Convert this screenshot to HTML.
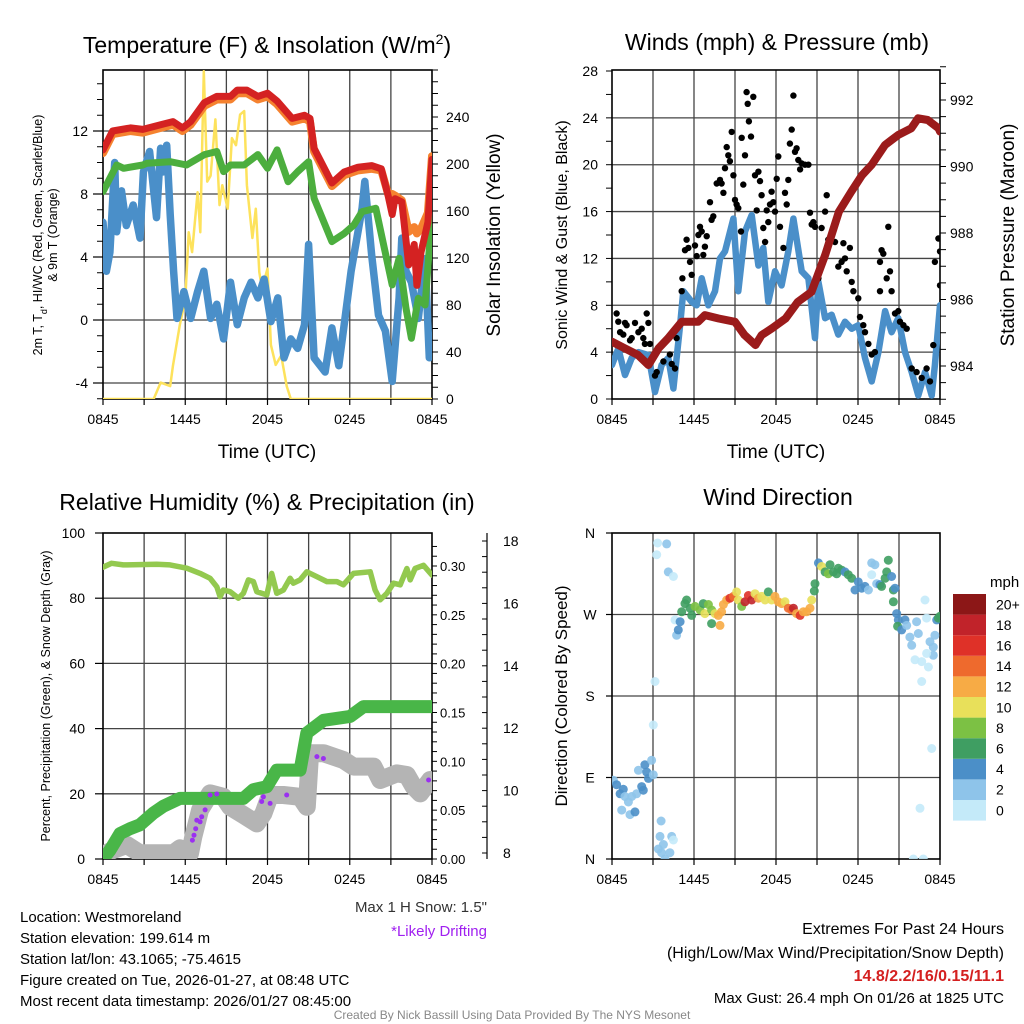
<!DOCTYPE html>
<html><head><meta charset="utf-8"><style>
html,body{margin:0;padding:0;background:#fff;}
svg{display:block;font-family:"Liberation Sans",Arial,sans-serif;}
</style></head><body>
<svg id="c" width="1024" height="1024" viewBox="0 0 1024 1024" xmlns="http://www.w3.org/2000/svg">
<defs>
<clipPath id="cp1"><rect x="103" y="70" width="329" height="329"/></clipPath>
<clipPath id="cp2"><rect x="612" y="70" width="328" height="329"/></clipPath>
<clipPath id="cp3"><rect x="103" y="533" width="329" height="326"/></clipPath>
<clipPath id="cp4"><rect x="612" y="533" width="328" height="326"/></clipPath>
</defs>
<g font-size="23" text-anchor="middle" fill="#000">
<text x="267" y="53">Temperature (F) &amp; Insolation (W/m<tspan dy="-9" font-size="14">2</tspan><tspan dy="9">)</tspan></text>
<text x="777" y="50">Winds (mph) &amp; Pressure (mb)</text>
<text x="267" y="510">Relative Humidity (%) &amp; Precipitation (in)</text>
<text x="778" y="505">Wind Direction</text>
</g>
<g fill="#000">
<text transform="translate(42,235) rotate(-90)" text-anchor="middle" font-size="12.5">2m T, T<tspan baseline-shift="sub" font-size="9">d</tspan>, HI/WC (Red, Green, Scarlet/Blue)</text>
<text transform="translate(57,235) rotate(-90)" text-anchor="middle" font-size="12.5">&amp; 9m T (Orange)</text>
<text transform="translate(500,235) rotate(-90)" text-anchor="middle" font-size="19">Solar Insolation (Yellow)</text>
<text x="267" y="458" text-anchor="middle" font-size="19">Time (UTC)</text>
<text x="776" y="458" text-anchor="middle" font-size="19">Time (UTC)</text>
<text transform="translate(567,235) rotate(-90)" text-anchor="middle" font-size="16">Sonic Wind &amp; Gust (Blue, Black)</text>
<text transform="translate(1014,235) rotate(-90)" text-anchor="middle" font-size="19">Station Pressure (Maroon)</text>
<text transform="translate(50,696) rotate(-90)" text-anchor="middle" font-size="12.5">Percent, Precipitation (Green), &amp; Snow Depth (Gray)</text>
<text transform="translate(567,696) rotate(-90)" text-anchor="middle" font-size="17">Direction (Colored By Speed)</text>
</g>
<g font-size="15" fill="#000">
<text x="20" y="922">Location: Westmoreland</text>
<text x="20" y="943">Station elevation: 199.614 m</text>
<text x="20" y="964">Station lat/lon: 43.1065; -75.4615</text>
<text x="20" y="985">Figure created on Tue, 2026-01-27, at 08:48 UTC</text>
<text x="20" y="1006">Most recent data timestamp: 2026/01/27 08:45:00</text>
<text x="487" y="912" text-anchor="end" fill="#333">Max 1 H Snow: 1.5"</text>
<text x="487" y="936" text-anchor="end" fill="#a020f0">*Likely Drifting</text>
<text x="1004" y="934" text-anchor="end" font-size="16">Extremes For Past 24 Hours</text>
<text x="1004" y="958" text-anchor="end" font-size="16">(High/Low/Max Wind/Precipitation/Snow Depth)</text>
<text x="1004" y="981" text-anchor="end" font-size="16" font-weight="bold" fill="#d42020">14.8/2.2/16/0.15/11.1</text>
<text x="1004" y="1003" text-anchor="end" font-size="15">Max Gust: 26.4 mph On 01/26 at 1825 UTC</text>
<text x="512" y="1019" text-anchor="middle" font-size="12" fill="#888">Created By Nick Bassill Using Data Provided By The NYS Mesonet</text>
</g>
</svg>
<script>
// ---------- Data ----------
const timeLabels = ['0845','1445','2045','0245','0845'];
const timeLabelHours = [0,6,12,18,24];
const tempTicks = [-4,0,4,8,12];
const solarTicks = [0,40,80,120,160,200,240];
const windTicks = [0,4,8,12,16,20,24,28];
const pressTicks = [984,986,988,990,992];
const rhTicks = [0,20,40,60,80,100];
const precipTicks = [0,0.05,0.10,0.15,0.20,0.25,0.30];
const precipTickLabels = ['0.00','0.05','0.10','0.15','0.20','0.25','0.30'];
const snowTicks = [8,10,12,14,16,18];
const dirTicks = [0,90,180,270,360];
const dirLabels = ['N','E','S','W','N'];
const speedBinLabels = ['0','2','4','6','8','10','12','14','16','18','20+'];

const tempTimes = [0,0.7,2,2.9,4.2,5.1,5.8,6.4,7.4,8.3,9.3,9.8,10.5,11.3,12,12.7,13.8,14.7,15.1,15.4,16.7,17.6,18.6,19.6,20.3,20.8,21.1,21.3,21.8,22.3,22.7,22.9,23.2,23.7,24];
const temp2m = [10.8,12.0,12.2,12.1,12.4,12.6,12.2,12.6,13.8,14.2,14.2,14.6,14.6,14.2,14.4,13.9,12.8,13.0,12.8,10.9,8.7,9.4,9.7,9.8,9.6,7.9,6.7,7.7,7.5,3.5,4.8,2.2,4.3,6.2,10.2];
const temp9m = [10.6,11.8,12.0,11.9,12.2,12.4,12.0,12.4,13.6,14.0,14.0,14.4,14.4,14.0,14.2,13.7,12.6,12.8,12.6,10.7,8.5,9.2,9.5,9.6,9.5,8.0,8.0,7.9,7.6,5.6,5.9,5.5,5.8,6.8,10.4];
const wcTimes = [0,1.0,1.5,2.9,3.2,4.9,6.1,7.4,8.3,8.8,9.3,10.3,11.3,12.0,12.7,13.5,14.2,15.0,15.4,16.7,17.6,18.3,18.9,19.9,21.1,21.6,22.1,22.5,23.0,23.5,24];
const windChill = [8.15,9.84,9.63,9.84,9.95,10.05,9.84,10.5,10.7,9.42,9.84,9.84,10.5,9.63,10.8,8.78,9.42,10.05,7.73,4.98,5.5,6.03,6.88,7.09,2.23,3.92,0.74,-1.16,1.38,0.95,6.88];
const dewTimes = [0,0.25,0.5,0.85,1.0,1.35,1.7,2.2,2.7,2.95,3.4,3.9,4.2,4.4,4.65,4.9,5.15,5.4,5.9,6.4,6.9,7.35,7.85,8.3,8.8,9.3,9.8,10.3,10.8,11.3,11.75,12.25,12.75,13.2,13.7,14.2,14.7,15.0,15.4,16.2,16.7,17.2,17.65,18.1,18.9,19.1,19.6,20.1,20.6,21.1,21.6,21.8,22.1,22.5,23.0,23.5,23.8,24];
const dewPoint = [6.2,3.1,4.3,10.0,5.6,8.2,6.0,7.3,5.2,9.4,10.7,6.5,10.9,9.4,11.1,6.7,3.1,0.1,1.8,0.1,1.8,3.1,0.1,1.0,-1.2,2.4,-0.3,1.4,2.4,1.4,2.6,-0.1,1.4,-2.4,-1.2,-1.8,-0.3,4.8,-2.4,-3.3,-0.5,-2.9,0.1,3.1,7.1,8.8,4.1,0.3,-0.7,-3.9,1.4,5.2,3.1,2.4,0.1,3.9,-2.4,-1.2];
const solarTimes = [0,3.7,4.2,4.9,5.1,5.6,6.0,6.25,6.5,6.9,7.1,7.35,7.6,7.85,8.2,8.5,8.7,9.1,9.4,9.7,10.0,10.3,10.5,10.9,11.15,11.4,11.6,12.0,12.25,12.6,13.0,13.4,13.7,24];
const solar = [0,0,14,11,28,63,85,142,125,176,142,279,185,190,238,165,182,162,222,216,242,245,182,137,162,108,94,111,46,29,37,11,0,0];

const pressTimes = [0,0.95,1.9,2.66,3.4,4.1,5.1,6.3,6.8,7.8,9.0,9.7,10.5,10.95,11.7,12.7,13.6,14.6,15.6,16.6,17.5,18.3,19.0,19.98,20.95,21.9,22.4,23.1,23.9,24];
const pressure = [984.73,984.53,984.33,984.03,984.53,984.83,985.33,985.33,985.53,985.43,985.33,984.93,984.63,984.93,985.13,985.43,985.93,986.23,987.34,988.64,989.24,989.74,990.05,990.65,990.95,991.15,991.45,991.4,991.15,991.05];
const sonicTimes = [0,0.46,0.95,1.44,1.93,2.66,3.15,3.63,4.12,4.49,4.98,5.22,5.83,6.2,6.56,7.05,7.54,7.9,8.27,8.88,9.24,9.73,10.22,10.71,11.07,11.44,11.93,12.41,12.9,13.27,13.88,14.37,14.85,15.1,15.59,16.07,16.56,17.05,17.54,18.02,18.51,19.0,19.49,19.98,20.46,20.95,21.44,21.93,22.41,22.9,23.39,23.63,24.0,24];
const sonicWind = [2.9,4.3,2.05,3.5,4.0,3.75,0.6,2.9,3.5,0.9,6.3,9.2,8.3,8.0,10.3,8.0,9.2,12.0,12.6,15.4,9.2,14.3,15.7,11.4,12.9,8.3,10.9,9.7,12.6,15.4,10.9,10.3,5.2,10.0,6.9,7.2,5.5,6.6,6.0,6.3,3.5,1.5,4.0,7.5,5.7,6.9,4.0,2.3,0.3,2.3,0.3,2.9,8.0,7.5];
const gustTimes = [0.34,0.46,0.59,0.95,0.83,1.07,1.44,1.32,1.68,1.93,2.17,2.29,2.54,2.66,2.41,2.78,3.15,3.27,3.76,4.24,4.37,4.61,4.73,5.1,5.15,5.34,5.46,5.59,5.71,5.83,6.07,6.2,6.32,6.44,6.56,6.68,6.8,6.93,7.17,7.29,7.41,7.66,7.9,8.02,8.15,8.27,8.39,8.51,8.63,8.76,8.88,9.0,9.12,9.24,9.44,9.49,9.61,9.73,9.85,9.93,10.02,10.17,10.34,10.46,10.59,10.71,10.83,10.95,11.07,11.2,11.32,11.44,11.56,11.68,11.8,11.93,12.05,12.17,12.29,12.54,12.66,12.78,12.9,13.02,13.15,13.27,13.39,13.51,13.63,13.76,13.88,14.12,14.37,14.49,14.61,14.73,14.85,15.1,15.34,15.59,15.71,15.83,16.07,16.32,16.56,16.8,16.93,17.05,17.17,17.41,17.54,17.66,18.02,18.15,18.39,18.51,18.76,19.24,19.0,19.61,19.73,19.85,20.22,20.1,20.34,20.46,19.61,20.71,20.95,21.07,21.32,21.56,21.93,22.29,22.66,23.02,23.27,23.51,23.63,23.88,24.0,24.0];
const gustSpeeds = [7.3,6.6,5.7,6.5,5.5,6.3,5.2,5.0,6.5,5.7,6.0,5.2,7.3,6.5,4.7,4.7,2.0,2.3,3.2,3.8,3.0,2.6,5.2,9.2,10.3,12.7,13.6,12.9,11.7,10.6,13.1,12.2,14.0,14.7,14.3,12.3,13.0,13.9,16.8,15.3,15.6,18.4,18.7,18.4,17.6,19.7,21.5,20.8,20.3,22.8,19.1,17.0,16.6,16.3,14.3,22.3,18.3,20.8,26.2,25.2,23.7,22.4,25.8,19.1,16.1,19.4,18.6,17.4,14.6,13.4,16.1,15.1,16.6,17.7,16.8,16.0,18.8,20.7,14.7,12.9,17.6,16.6,18.7,21.8,23.0,25.9,21.1,21.4,20.4,19.6,20.1,20.0,20.0,15.9,14.9,15.1,14.7,10.3,14.6,16.0,17.4,13.6,14.1,13.4,11.3,11.7,13.3,12.0,10.9,12.9,10.0,9.2,8.6,7.0,6.3,5.7,4.7,4.0,3.8,11.7,12.7,12.4,14.7,10.3,10.9,9.2,9.2,7.3,7.5,6.6,6.3,6.0,2.6,2.3,1.8,2.6,1.5,4.6,11.7,13.7,12.6,9.7];

const rhTimes = [0,0.63,1.48,3.92,4.89,6.11,7.08,7.81,8.3,8.54,8.78,9.27,9.88,10.24,10.61,10.97,11.22,11.95,12.31,12.68,13.16,13.65,13.89,14.38,14.87,15.6,16.33,17.06,17.54,18.27,19.49,19.85,20.22,20.71,21.19,21.68,22.17,22.41,22.77,23.38,24];
const relHumidity = [89.5,90.7,90.2,90.4,90.2,89.2,87.6,86.1,83.5,80.5,82.5,82.0,80.0,81.5,85.6,85.1,82.0,81.0,87.6,81.5,82.5,86.1,84.6,85.6,88.1,86.6,85.1,85.1,84.1,87.6,88.1,82.5,79.5,81.5,84.6,84.1,89.1,85.6,89.1,90.1,87.1];
const precipTimes = [0,0.51,1.24,1.97,2.7,3.67,4.4,5.62,10.24,10.97,11.95,12.68,14.38,14.87,16.09,18.03,19.0,24];
const precip = [0,0.009,0.026,0.031,0.035,0.047,0.054,0.062,0.062,0.071,0.074,0.091,0.091,0.129,0.142,0.146,0.156,0.156];
const snowTimes = [0,0.75,1.73,2.7,5.13,5.62,6.35,6.59,7.08,7.81,8.78,9.27,10.24,11.22,11.7,12.19,13.16,14.38,14.87,15.11,16.08,17.54,18.27,19.73,20.22,21.44,22.17,22.65,23.14,23.87];
const snowDepth = [7.94,8.1,8.26,7.99,7.99,8.15,7.99,8.52,9.38,9.91,9.8,9.48,9.22,8.95,9.27,9.86,9.86,9.8,9.48,11.2,11.2,10.98,10.77,10.77,10.34,10.55,10.5,10.13,9.91,10.34];
const driftTimes = [6.52,6.64,6.76,6.84,7.08,7.2,7.45,7.81,8.3,11.7,11.58,12.19,13.4,15.6,16.08,23.75];
const driftDepth = [8.41,8.57,8.78,9.05,9.0,9.16,9.38,9.86,9.89,9.8,9.65,9.59,9.86,11.09,11.03,10.34];

const dirTimes = [0.1,0.34,0.59,0.83,0.95,1.2,1.44,0.71,1.32,1.68,1.8,1.93,2.17,2.29,2.41,2.54,2.66,2.9,3.02,3.02,3.15,3.27,3.34,4.0,4.12,4.49,3.59,3.51,4.37,3.76,3.39,3.63,3.88,4.24,4.49,4.61,4.73,4.85,4.98,5.1,5.34,5.46,5.71,5.83,6.07,6.44,6.68,6.8,7.05,7.29,7.29,7.54,7.78,7.9,8.02,8.15,8.39,8.63,8.88,9.12,9.24,9.49,9.73,9.98,10.22,10.46,10.71,10.95,11.2,11.44,11.68,11.93,12.17,12.41,12.66,12.9,13.15,13.27,13.51,13.76,14.0,14.24,14.49,14.61,14.8,14.85,15.1,15.34,15.59,15.83,15.95,16.2,16.44,16.56,16.8,17.05,17.29,17.54,17.78,18.02,18.27,18.51,18.76,19.0,19.24,19.37,19.0,19.61,19.73,19.98,20.1,20.22,20.46,20.59,20.71,20.59,20.83,20.95,20.9,21.2,21.44,21.56,21.8,21.93,22.17,22.29,22.41,22.9,23.02,23.27,23.51,23.51,23.63,23.02,22.66,23.15,22.66,23.39,22.54,22.05,22.78,23.76,23.88,24.0];
const dirDegrees = [87,82,72,77,69,63,69,54,49,52,72,98,80,76,104,96,89,109,93,148,196,336,349,348,317,312,42,25,25,16,11,7,0,7,21,264,247,253,262,273,282,286,277,269,279,275,282,271,281,275,260,271,269,258,273,281,286,288,290,295,286,279,284,291,286,293,288,290,286,295,286,290,284,282,284,277,275,277,271,269,273,273,277,286,296,304,327,323,317,315,325,317,315,321,319,317,314,310,297,306,299,301,297,327,325,304,314,303,301,310,317,330,312,297,299,284,271,264,257,253,264,258,245,236,220,262,249,286,266,240,234,225,247,227,218,212,196,122,56,0,0,264,266,268];
const dirSpeeds = [3,4,4,4,2,3,2,2,2,4,2,3,4,4,4,4,4,3,3,1,1,1,1,2,2,1,2,2,2,2,2,2,2,2,1,1,2,4,4,6,7,7,7,7,8,9,7,10,8,9,7,10,12,12,12,12,13,16,14,10,11,8,18,16,18,10,12,11,10,7,11,12,12,13,10,15,15,18,13,16,12,12,12,10,7,7,4,10,7,8,6,7,7,6,6,5,6,6,5,4,4,4,3,3,2,3,1,4,7,6,6,6,4,6,4,6,4,4,6,4,4,3,3,2,1,2,2,1,1,2,3,3,2,1,1,1,1,1,1,1,1,4,7,7];
const speedColors = ['#c4eaf9','#8ec4ea','#4b8fc8','#3f9e62','#7cc144','#e8e05a','#f7ab45','#ee6a2d','#df3128','#c1232a','#8c1717'];

// ---------- Scales ----------
const x1 = t => 103 + t * 329 / 24;
const x2 = t => 612 + t * 328 / 24;
const yTemp = v => 320 - v * 15.75;
const ySolar = w => 399 - w * 47 / 40;
const yWind = m => 399 - m * 328 / 28;
const yPress = p => 366 - (p - 984) * 33.25;
const yRH = h => 859 - h * 3.26;
const yPrecip = p => 859 - p * 976.7;
const ySnow = s => 853 - (s - 8) * 31.2;
const yDir = d => 859 - d * 326 / 360;

const NS = 'http://www.w3.org/2000/svg';
const svg = document.getElementById('c');
function mk(tag, attrs, parent) {
  const e = document.createElementNS(NS, tag);
  for (const k in attrs) e.setAttribute(k, attrs[k]);
  (parent || svg).appendChild(e);
  return e;
}
function group(name, clip) {
  const g = mk('g', clip ? {'clip-path': 'url(#' + clip + ')'} : {});
  
  
  return g;
}
function txt(parent, x, y, s, anchor, size, name) {
  const t = mk('text', {x: x, y: y, 'text-anchor': anchor, 'font-size': size, fill: '#000'}, parent);
  t.textContent = s;
  
  
  return t;
}
function line(parent, x1_, y1_, x2_, y2_, stroke, w, name) {
  const l = mk('line', {x1: x1_, y1: y1_, x2: x2_, y2: y2_, stroke: stroke, 'stroke-width': w}, parent);
  
  
  return l;
}
function series(parent, xs, ys, fx, fy, color, w, name) {
  let d = '';
  for (let i = 0; i < xs.length; i++) d += (i ? 'L' : 'M') + fx(xs[i]).toFixed(1) + ',' + fy(ys[i]).toFixed(1);
  const p = mk('path', {d: d, fill: 'none', stroke: color, 'stroke-width': w, 'stroke-linejoin': 'round', 'stroke-linecap': 'round'}, parent);
  
  
  return p;
}
function dots(parent, xs, ys, fx, fy, color, r, name, op) {
  for (let i = 0; i < xs.length; i++) {
    const c = mk('circle', {cx: fx(xs[i]).toFixed(1), cy: fy(ys[i]).toFixed(1), r: r, fill: color, 'fill-opacity': op || 1}, parent);
    
    
  }
}
function frame(L, T, R, B, fx, name, hvals, fy) {
  const g = group(name + '-grid');
  for (let h = 3; h < 24; h += 3) line(g, fx(h), T, fx(h), B, '#444', 1.3, 'vertical-gridline');
  hvals.forEach(v => line(g, L, fy(v), R, fy(v), '#444', 1.3, 'horizontal-gridline'));
  const r = mk('rect', {x: L, y: T, width: R - L, height: B - T, fill: 'none', stroke: '#000', 'stroke-width': 1.6}, g);
  
  
  const a = group(name + '-x-axis');
  for (let h = 0; h <= 24; h += 3) line(a, fx(h), B, fx(h), B + 6, '#000', 1.2, 'x-tick');
  timeLabels.forEach((s, i) => txt(a, fx(timeLabelHours[i]), B + 25, s, 'middle', 14, 'x-tick-label'));
}

// ---------- Panel 1 ----------
frame(103, 70, 432, 399, x1, 'temp-panel', tempTicks, yTemp);
{
  const a = group('temp-y-axis');
  for (let v = -5; v <= 15; v++) line(a, 97, yTemp(v), 103, yTemp(v), '#000', 1, 'y-minor-tick');
  tempTicks.forEach(v => { line(a, 93, yTemp(v), 103, yTemp(v), '#000', 1.2, 'y-tick'); txt(a, 88, yTemp(v) + 5, String(v), 'end', 14, 'y-tick-label'); });
  const b = group('solar-y-axis');
  for (let w = 0; w <= 280; w += 10) line(b, 432, ySolar(w), 438, ySolar(w), '#000', 1, 'y2-minor-tick');
  solarTicks.forEach(w => txt(b, 446, ySolar(w) + 5, String(w), 'start', 14, 'y2-tick-label'));
  const g = group('temp-series', 'cp1');
  series(g, solarTimes, solar, x1, ySolar, '#fde25c', 2.5, 'solar-insolation-line');
  series(g, dewTimes, dewPoint, x1, yTemp, '#4a8fc9', 7.5, 'dewpoint-line');
  series(g, wcTimes, windChill, x1, yTemp, '#4cae3e', 7, 'wind-chill-line');
  series(g, tempTimes, temp9m, x1, yTemp, '#f5822f', 8, 'temp-9m-line');
  series(g, tempTimes, temp2m, x1, yTemp, '#d42222', 7, 'temp-2m-line');
}

// ---------- Panel 2 ----------
frame(612, 70, 940, 399, x2, 'wind-panel', [4,8,12,16,20,24], yWind);
{
  const a = group('wind-y-axis');
  for (let v = 0; v <= 28; v += 2) line(a, 606, yWind(v), 612, yWind(v), '#000', 1, 'y-minor-tick');
  windTicks.forEach(v => txt(a, 598, yWind(v) + 5, String(v), 'end', 14, 'y-tick-label'));
  const b = group('pressure-y-axis');
  for (let p = 983; p <= 993; p += 0.5) line(b, 940, yPress(p), 946, yPress(p), '#000', 1, 'y2-minor-tick');
  pressTicks.forEach(p => txt(b, 950, yPress(p) + 5, String(p), 'start', 14, 'y2-tick-label'));
  const g = group('wind-series', 'cp2');
  series(g, sonicTimes, sonicWind, x2, yWind, '#4a8fc9', 6.5, 'sonic-wind-line');
  dots(g, gustTimes, gustSpeeds, x2, yWind, '#000', 3.2, 'gust-point');
  series(g, pressTimes, pressure, x2, yPress, '#9b1b1b', 8, 'pressure-line');
}

// ---------- Panel 3 ----------
frame(103, 533, 432, 859, x1, 'rh-panel', [20,40,60,80], yRH);
{
  const a = group('rh-y-axis');
  rhTicks.forEach(v => { line(a, 95, yRH(v), 103, yRH(v), '#000', 1.2, 'y-tick'); txt(a, 85, yRH(v) + 5, String(v), 'end', 14, 'y-tick-label'); });
  const b = group('precip-y-axis');
  for (let p = 0; p <= 0.33; p += 0.01) line(b, 432, yPrecip(p), 437, yPrecip(p), '#000', 1, 'y2-minor-tick');
  precipTicks.forEach((p, i) => txt(b, 440, yPrecip(p) + 5, precipTickLabels[i], 'start', 13, 'y2-tick-label'));
  const c = group('snow-y-axis');
  line(c, 487, 533, 487, 859, '#000', 1.2, 'snow-axis-line');
  for (let s = 8; s <= 18.2; s += 0.5) line(c, 482, ySnow(s), 487, ySnow(s), '#000', 1, 'y3-minor-tick');
  snowTicks.forEach(s => txt(c, 503, ySnow(s) + 5, String(s), 'start', 14, 'y3-tick-label'));
  const g = group('rh-series', 'cp3');
  series(g, snowTimes, snowDepth, x1, ySnow, '#b4b4b4', 18, 'snow-depth-line');
  series(g, precipTimes, precip, x1, yPrecip, '#49b648', 13, 'precipitation-line');
  series(g, rhTimes, relHumidity, x1, yRH, '#93c94f', 5.5, 'relative-humidity-line');
  dots(g, driftTimes, driftDepth, x1, ySnow, '#9b30f0', 2.5, 'drifting-point');
}

// ---------- Panel 4 ----------
frame(612, 533, 940, 859, x2, 'direction-panel', [90,180,270], yDir);
{
  const a = group('direction-y-axis');
  dirTicks.forEach((d, i) => { line(a, 606, yDir(d), 612, yDir(d), '#000', 1.2, 'y-tick'); txt(a, 590, yDir(d) + 5, dirLabels[i], 'middle', 14, 'y-tick-label'); });
  const g = group('direction-series', 'cp4');
  for (let i = 0; i < dirTimes.length; i++) {
    const bin = Math.min(10, Math.floor(dirSpeeds[i] / 2));
    const c = mk('circle', {cx: x2(dirTimes[i]).toFixed(1), cy: yDir(dirDegrees[i]).toFixed(1), r: 4.5, fill: speedColors[bin], 'fill-opacity': 0.9}, g);
    
    
  }
  const lg = group('speed-colorbar');
  txt(lg, 990, 587, 'mph', 'start', 15, 'colorbar-title');
  const top = 594, bh = 20.6;
  for (let i = 0; i < speedColors.length; i++) {
    const yy = top + (10 - i) * bh;
    const r = mk('rect', {x: 953, y: yy, width: 33, height: bh, fill: speedColors[i]}, lg);
    
    
    txt(lg, 996, yy + bh / 2 + 5, speedBinLabels[i], 'start', 14, 'colorbar-label');
  }
}
</script>
</body></html>
